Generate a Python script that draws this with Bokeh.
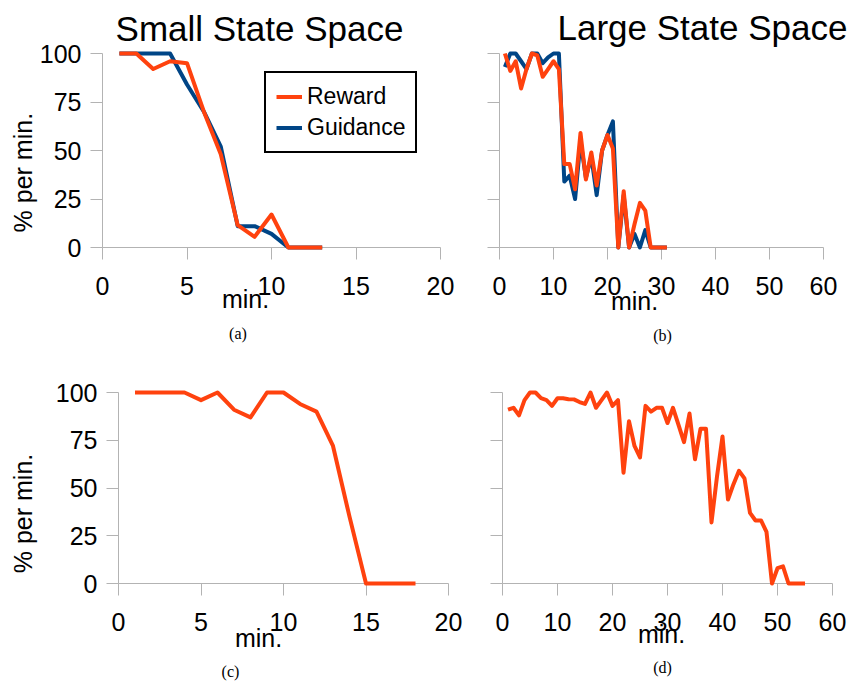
from bokeh.plotting import figure
from bokeh.layouts import column, row
from bokeh.models import Legend, LegendItem, Range1d, FixedTicker
from bokeh.core.properties import value
from bokeh.embed import file_html
from bokeh.resources import INLINE
import math

# ---------------- data ----------------
minutes_a = list(range(1, 14))
reward_a = [100, 100, 92, 96, 95, 70, 48, 11.5, 5.5, 17, 0, 0, 0]
guidance_a = [100, 100, 100, 100, 84, 70, 52, 11, 11, 7, 0, 0, 0]

minutes_b = list(range(1, 32))
reward_b = [100, 91, 96, 82, 92, 100, 99, 88, 92, 96, 92, 43, 43, 30, 59, 35, 49, 32,
            50, 58, 51, 0, 29, 0, 12, 23, 19, 0, 0, 0, 0]
guidance_b = [93, 100, 100, 96, 92, 100, 100, 95, 98, 100, 100, 34, 37, 25, 55, 36, 47,
              27, 50, 58, 65, 0, 27, 0, 7, 0, 9, 0, 0, 0, 0]

minutes_c = list(range(1, 19))
reward_c = [100, 100, 100, 100, 96, 100, 91, 87, 100, 100, 94, 90, 72, 35, 0, 0, 0, 0]

minutes_d = list(range(1, 56))
reward_d = [91, 92, 88, 96, 100, 100, 97, 96, 93, 97,
            97, 96.5, 96.4, 95, 94, 100, 92, 96, 100, 93,
            96, 58, 85, 72, 66, 93, 90, 92, 92, 84,
            92, 83, 74, 89, 65, 81, 81, 32, 56, 77,
            44, 52, 59, 55, 37, 33, 33, 27, 0, 8,
            9, 0, 0, 0, 0]

x_ticks_small = [0, 5, 10, 15, 20]
x_ticks_large = [0, 10, 20, 30, 40, 50, 60]
y_ticks = [0, 25, 50, 75, 100]

series_labels = ["Reward", "Guidance"]
titles = ["Small State Space", "Large State Space"]
captions = ["(a)", "(b)", "(c)", "(d)"]
x_label = "min."
y_label = "% per min."

# ---------------- style ----------------
RED = "#FF420E"
BLUE = "#004586"
AXIS = "#b3b3b3"
FONT = "Liberation Sans"
SERIF = "Liberation Serif"
LW = 4


class Panel:
    def __init__(self, fw, fh, ox, oy, ax_x0, ax_x1, xticks, ax_y100, ax_y0, show_ylabels):
        xmax = xticks[-1]
        fl = round(ax_x0 - ox)
        fr = round(ax_x1 - ox)
        ft = round(ax_y100 - oy)
        fb = round(ax_y0 - oy)
        self.left = ox + fl
        self.bottom = oy + fb
        self.xs = xmax / float(fr - fl)
        self.ys = 100.0 / float(fb - ft)
        p = figure(width=fw, height=fh, output_backend="svg", toolbar_location=None,
                   x_range=Range1d(0, xmax), y_range=Range1d(0, 100),
                   min_border_left=fl, min_border_right=fw - fr,
                   min_border_top=ft, min_border_bottom=fh - fb)
        p.outline_line_color = None
        p.grid.visible = False
        p.background_fill_color = "white"
        p.border_fill_color = "white"
        for ax in (p.xaxis[0], p.yaxis[0]):
            ax.axis_line_color = AXIS
            ax.axis_line_width = 1
            ax.major_tick_line_color = AXIS
            ax.major_tick_out = 12
            ax.major_tick_in = 0
            ax.minor_tick_line_color = None
            ax.major_label_text_font = FONT
            ax.major_label_text_font_size = "25px"
            ax.major_label_text_color = "black"
        p.xaxis[0].ticker = FixedTicker(ticks=xticks)
        p.yaxis[0].ticker = FixedTicker(ticks=y_ticks)
        p.xaxis[0].major_label_standoff = 17
        p.yaxis[0].major_label_standoff = 9
        if not show_ylabels:
            p.yaxis[0].major_label_overrides = {t: "" for t in y_ticks}
            p.yaxis[0].major_label_standoff = 0
        self.p = p

    def line(self, xs, ys, color):
        return self.p.line(xs, ys, line_color=color, line_width=LW, line_join="round",
                           level="overlay")

    def text(self, px, py, txt, size, font=FONT, angle=0.0, align="center", baseline="middle"):
        dx = (px - self.left) * self.xs
        dy = (self.bottom - py) * self.ys
        self.p.text(x=[dx], y=[dy], text=[txt], text_font=value(font),
                    text_font_size=value(size), angle=angle, text_align=align,
                    text_baseline=baseline, text_color="black", level="overlay")


TOP_H = 350
BOT_H = 334
LEFT_W = 466
RIGHT_W = 384

# panel (a)
A = Panel(LEFT_W, TOP_H, 0, 0, 101.7, 440.0, x_ticks_small, 53.3, 250.0, True)
ga = A.line(minutes_a, guidance_a, BLUE)
ra = A.line(minutes_a, reward_a, RED)
leg_left, leg_bottom = 264, 156
legend = Legend(items=[LegendItem(label=series_labels[0], renderers=[ra]),
                       LegendItem(label=series_labels[1], renderers=[ga])],
                location=(leg_left - A.left, A.bottom - leg_bottom),
                label_text_font=FONT, label_text_font_size="23px", label_text_color="black",
                glyph_width=26, glyph_height=27, label_height=27, label_standoff=5,
                spacing=4, padding=10, margin=0,
                border_line_color="black", border_line_alpha=1.0, border_line_width=2,
                background_fill_color="white", background_fill_alpha=1.0)
A.p.add_layout(legend)
A.text(259, 28, titles[0], "35px")
A.text(22, 174, y_label, "25px", angle=math.pi / 2)
A.text(245, 302, x_label, "25px")
A.text(237.5, 337, captions[0], "16px", font=SERIF)

# panel (b)
B = Panel(RIGHT_W, TOP_H, LEFT_W, 0, 499.3, 823.3, x_ticks_large, 49.3, 246.7, False)
B.line(minutes_b, guidance_b, BLUE)
B.line(minutes_b, reward_b, RED)
B.text(702, 22, titles[1], "35px")
B.text(634, 302, x_label, "25px")
B.text(662, 337, captions[1], "16px", font=SERIF)

# panel (c)
C = Panel(LEFT_W, BOT_H, 0, TOP_H, 117.7, 448.3, x_ticks_small, 391.7, 583.3, True)
C.line(minutes_c, reward_c, RED)
C.text(22, 513, y_label, "25px", angle=math.pi / 2)
C.text(258, 637, x_label, "25px")
C.text(230, 671, captions[2], "16px", font=SERIF)

# panel (d)
D = Panel(RIGHT_W, BOT_H, LEFT_W, TOP_H, 501.7, 831.7, x_ticks_large, 392.3, 585.7, False)
D.line(minutes_d, reward_d, RED)
D.text(661, 637, x_label, "25px")
D.text(662, 671, captions[3], "16px", font=SERIF)

layout = column(row(A.p, B.p, spacing=0), row(C.p, D.p, spacing=0), spacing=0)

with open("out.html", "w") as f:
    f.write(file_html(layout, INLINE))
